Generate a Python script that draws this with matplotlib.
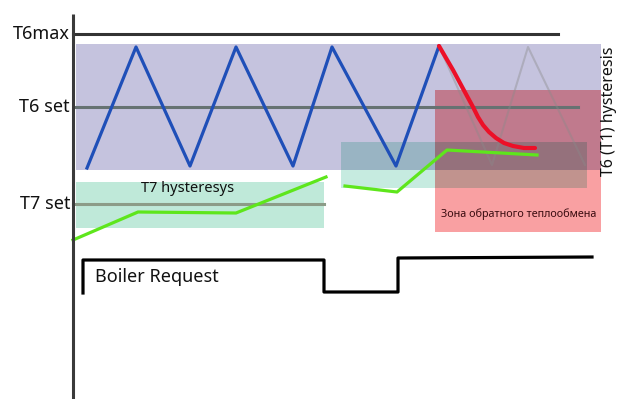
import itertools

import matplotlib
matplotlib.use('Agg')
import matplotlib.pyplot as plt
import numpy as np
from matplotlib.patches import Rectangle

# picture units: pixels of the 617x399 image, y goes down
W, H = 617, 399

# zones (x0, x1, y0, y1) and their colours, overlaps are multiplied
zone_names = ['t6_hyst', 't7_hyst', 't7_hyst_2', 'reverse']
zone_x0 = [76, 76, 341, 435]
zone_x1 = [601, 324, 587, 601]
zone_y0 = [44, 182, 142, 90]
zone_y1 = [170, 228, 188, 232]
zone_colors = ['#c5c3de', '#bfe9d9', '#c6ebe0', '#f9a0a2']

# level lines
t6max_x, t6max_y = [73, 558], [34, 34]
t6set_x, t6set_y = [76, 578], [107, 107]
t7set_x, t7set_y = [73, 324], [204, 204]

# T6 temperature (blue), what it would have done (grey), and the real drop (red)
t6_x = [87, 136, 190, 236, 293, 332, 396, 439]
t6_y = [168, 47, 166, 47, 166, 47, 166, 46]
ghost_x = [439, 492, 528, 585]
ghost_y = [46, 165, 47, 165]
drop_x = [439, 446, 453, 460, 467, 473, 478, 483, 489, 496, 504, 513, 524, 535]
drop_y = [46, 58, 70, 83, 96, 107, 117, 125, 132, 138, 143, 146, 148, 148]

# T7 temperature (green), two pieces
t7a_x = [73, 138, 236, 326]
t7a_y = [240, 212, 213, 177]
t7b_x = [345, 397, 447, 537]
t7b_y = [186, 192, 150, 155]

# boiler request signal
boiler_x = [83, 83, 324, 324, 398, 398, 592]
boiler_y = [293, 260, 260, 292, 292, 258, 257]

level_labels = ['T6max', 'T6 set', 'T7 set']
level_label_y = [34, 107, 204]


def to_rgb(c):
    return np.array(matplotlib.colors.to_rgb(c))


def draw_zones(ax):
    n = len(zone_names)
    # every combination of zones, small ones on top
    for k in range(1, n + 1):
        for combo in itertools.combinations(range(n), k):
            x0 = max(zone_x0[i] for i in combo)
            x1 = min(zone_x1[i] for i in combo)
            y0 = max(zone_y0[i] for i in combo)
            y1 = min(zone_y1[i] for i in combo)
            if x1 <= x0 or y1 <= y0:
                continue
            col = np.ones(3)
            for i in combo:
                col = col * to_rgb(zone_colors[i])
            ax.add_patch(Rectangle((x0, y0), x1 - x0, y1 - y0, facecolor=col,
                                   edgecolor='none', zorder=1 + k * 0.1))


def main():
    fig = plt.figure(figsize=(W / 100, H / 100), dpi=100)
    ax = fig.add_axes([0, 0, 1, 1])
    ax.set_xlim(0, W)
    ax.set_ylim(H, 0)
    ax.axis('off')

    draw_zones(ax)

    # vertical axis
    ax.plot([73, 73], [14, H], color='#3a3a3a', lw=2.2, solid_capstyle='butt', zorder=5)

    ax.plot(t6max_x, t6max_y, color='#333333', lw=2.2, zorder=3)
    ax.plot(t6set_x, t6set_y, color='#667272', lw=2.2, zorder=3)
    ax.plot(t7set_x, t7set_y, color='#8c9c88', lw=2.2, zorder=3)

    ax.plot(ghost_x, ghost_y, color='#8a8a8a', lw=1.5, alpha=0.4, zorder=3)
    ax.plot(t6_x, t6_y, color='#1f4fb8', lw=2.3, zorder=4)
    ax.plot(drop_x, drop_y, color='#ec1028', lw=3, solid_capstyle='round',
            solid_joinstyle='round', zorder=4)

    ax.plot(t7a_x, t7a_y, color='#5ee61c', lw=2.3, zorder=4)
    ax.plot(t7b_x, t7b_y, color='#5ee61c', lw=2.3, zorder=4)

    ax.plot(boiler_x, boiler_y, color='#000000', lw=2.3, zorder=4)

    sans = ['Noto Sans', 'DejaVu Sans']
    for lab, y in zip(level_labels, level_label_y):
        ax.text(70, y, lab, ha='right', va='center', fontsize=13,
                family=sans, color='#111111', zorder=6)

    ax.text(188, 189, 'T7 hysteresys', ha='center', va='center', fontsize=10.5,
            family=sans, color='#111111', zorder=6)
    ax.text(95, 277, 'Boiler Request', ha='left', va='center', fontsize=13,
            family=sans, color='#111111', zorder=6)
    ax.text(609, 111, 'T6 (T1) hysteresis', ha='center', va='center', rotation=90,
            fontsize=11.5, family=sans, color='#111111', zorder=6)

    # no narrow face here, so a smaller size keeps it inside the red zone
    ax.text(519, 214, 'Зона обратного теплообмена', ha='center', va='center',
            fontsize=7.8, family=sans, color='#3a0c10', zorder=6)

    fig.savefig('out.png', dpi=100)
    plt.close('all')


if __name__ == '__main__':
    main()
